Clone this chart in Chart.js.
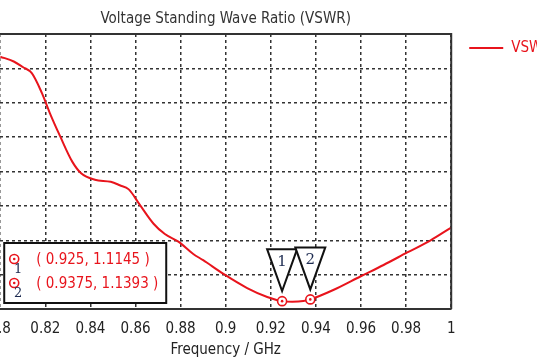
<!DOCTYPE html>
<html>
<head>
<meta charset="utf-8">
<script src="https://cdn.jsdelivr.net/npm/chart.js@4.4.0/dist/chart.umd.min.js"></script>
<style>
  html, body { margin: 0; padding: 0; background: #fff; overflow: hidden; }
  #wrap { width: 537px; height: 360px; overflow: hidden; }
  #vswrChart { display: block; }
</style>
</head>
<body>
<div id="wrap"><canvas id="vswrChart" width="640" height="360"></canvas></div>
<script>
// Curva VSWR (frecuencia en GHz)
const freqGHz = [
  0.800, 0.806, 0.810, 0.814, 0.8185, 0.822, 0.8266, 0.832, 0.836, 0.842,
  0.849, 0.853, 0.857, 0.862, 0.868, 0.873, 0.879, 0.8856, 0.890, 0.899,
  0.9095, 0.9184, 0.925, 0.9295, 0.9344, 0.9375, 0.9477, 0.9597, 0.970, 0.9805,
  0.9907, 1.000
];
const vswr = [
  4.67, 4.60, 4.52, 4.43, 4.14, 3.85, 3.51, 3.14, 2.97, 2.88,
  2.85, 2.80, 2.74, 2.51, 2.24, 2.09, 1.98, 1.80, 1.71, 1.51,
  1.305, 1.175, 1.1145, 1.105, 1.115, 1.1393, 1.276, 1.473, 1.64, 1.822,
  1.996, 2.185
];

// Marcadores
const markerIds = ['1', '2'];
const markerFreq = [0.925, 0.9375];
const markerVswr = [1.1145, 1.1393];

const xTickLabels = ['0.8', '0.82', '0.84', '0.86', '0.88', '0.9', '0.92', '0.94', '0.96', '0.98', '1'];

const RED = '#e8141c';
const INK = '#222';
const FONT = "'DejaVu Sans Condensed', 'Liberation Sans', sans-serif";

Chart.defaults.font.family = FONT;

function drawRing(ctx, cx, cy) {
  ctx.beginPath();
  ctx.arc(cx, cy, 4.5, 0, Math.PI * 2);
  ctx.fillStyle = '#fff';
  ctx.fill();
  ctx.strokeStyle = RED;
  ctx.lineWidth = 1.6;
  ctx.stroke();
  ctx.beginPath();
  ctx.arc(cx, cy, 1.3, 0, Math.PI * 2);
  ctx.fillStyle = RED;
  ctx.fill();
}

// Marco, marcadores triangulares, cuadro de valores y leyenda
const markerPlugin = {
  id: 'markerPlugin',
  afterDatasetsDraw(chart) {
    const { ctx, chartArea: area, scales: { x, y } } = chart;
    const ox = area.left;
    ctx.save();

    // marco superior y derecho
    ctx.strokeStyle = '#333';
    ctx.lineWidth = 2;
    ctx.beginPath();
    ctx.moveTo(area.left, area.top);
    ctx.lineTo(area.right, area.top);
    ctx.lineTo(area.right, area.bottom);
    ctx.stroke();

    // triángulos con número
    markerFreq.forEach((f, i) => {
      const px = x.getPixelForValue(f);
      const py = y.getPixelForValue(markerVswr[i]);
      const top = py - 52;
      ctx.beginPath();
      ctx.moveTo(px - 15, top);
      ctx.lineTo(px + 15, top);
      ctx.lineTo(px, py - 10);
      ctx.closePath();
      ctx.fillStyle = '#fff';
      ctx.fill();
      ctx.strokeStyle = '#111';
      ctx.lineWidth = 2;
      ctx.stroke();
      ctx.fillStyle = '#1c2a50';
      ctx.font = "15px 'DejaVu Serif', serif";
      ctx.textAlign = 'center';
      ctx.textBaseline = 'middle';
      ctx.fillText(markerIds[i], px, top + 13);
    });

    // círculos de marcador sobre la curva
    markerFreq.forEach((f, i) => {
      drawRing(ctx, x.getPixelForValue(f), y.getPixelForValue(markerVswr[i]));
    });

    // cuadro con valores
    const bx = ox + 4, by = 243, bw = 162, bh = 60;
    ctx.fillStyle = '#fff';
    ctx.fillRect(bx, by, bw, bh);
    ctx.strokeStyle = '#111';
    ctx.lineWidth = 2;
    ctx.strokeRect(bx, by, bw, bh);
    markerIds.forEach((id, i) => {
      const rowY = by + 17 + i * 24;
      drawRing(ctx, ox + 14, rowY - 1);
      ctx.fillStyle = '#1c2a50';
      ctx.font = "13px 'DejaVu Serif', serif";
      ctx.textAlign = 'center';
      ctx.textBaseline = 'middle';
      ctx.fillText(id, ox + 18, rowY + 10);
      ctx.fillStyle = RED;
      ctx.font = '15px ' + FONT;
      ctx.textAlign = 'left';
      ctx.fillText('( ' + markerFreq[i] + ', ' + markerVswr[i] + ' )', ox + 36, rowY);
    });

    ctx.restore();
  },
  afterDraw(chart) {
    // leyenda (recortada por el borde derecho como en la imagen)
    const { ctx, chartArea: area } = chart;
    const ds = chart.data.datasets[0];
    const ox = area.left;
    ctx.save();
    ctx.strokeStyle = ds.borderColor;
    ctx.lineWidth = 2;
    ctx.beginPath();
    ctx.moveTo(ox + 469, 48);
    ctx.lineTo(ox + 503, 48);
    ctx.stroke();
    ctx.fillStyle = ds.borderColor;
    ctx.font = '15px ' + FONT;
    ctx.textAlign = 'left';
    ctx.textBaseline = 'middle';
    ctx.fillText(ds.label, ox + 511, 48);
    ctx.restore();
  }
};

const canvas = document.getElementById('vswrChart');
const chart = new Chart(canvas, {
  type: 'line',
  data: {
    datasets: [{
      label: 'VSWR',
      data: freqGHz.map((f, i) => ({ x: f, y: vswr[i] })),
      borderColor: RED,
      borderWidth: 2,
      pointRadius: 0,
      cubicInterpolationMode: 'monotone',
      fill: false
    }]
  },
  options: {
    responsive: false,
    devicePixelRatio: 1,
    animation: false,
    layout: {
      padding: { left: 0, right: 100, top: 0, bottom: 0 }
    },
    plugins: {
      legend: { display: false },
      tooltip: { enabled: false },
      title: {
        display: true,
        fullSize: false,
        text: 'Voltage Standing Wave Ratio (VSWR)',
        color: '#333',
        font: { size: 15, weight: 'normal' },
        padding: { top: 10, bottom: 6 }
      }
    },
    scales: {
      x: {
        type: 'linear',
        min: 0.8,
        max: 1,
        ticks: {
          stepSize: 0.02,
          autoSkip: false,
          maxRotation: 0,
          color: INK,
          font: { size: 15 },
          padding: 11.5,
          callback: (value, index) => xTickLabels[index]
        },
        grid: { color: '#333', lineWidth: 1.5, drawTicks: false },
        border: { display: true, color: '#333', width: 2, dash: [3, 3] },
        title: {
          display: true,
          text: 'Frequency / GHz',
          color: INK,
          font: { size: 15 },
          padding: { top: -9, bottom: 1 }
        }
      },
      y: {
        min: 1,
        max: 5,
        ticks: { display: false, stepSize: 0.5 },
        grid: { color: '#333', lineWidth: 1.5, drawTicks: false },
        border: { display: false, dash: [3, 3] }
      }
    }
  },
  plugins: [markerPlugin]
});

// La captura corta el eje Y: el área de trazado empieza en x=0 y termina en x=451
const plotWidth = 451;
chart.options.layout.padding.right += (chart.chartArea.right - chart.chartArea.left) - plotWidth;
chart.update();
canvas.style.marginLeft = (-chart.chartArea.left) + 'px';
</script>
</body>
</html>
